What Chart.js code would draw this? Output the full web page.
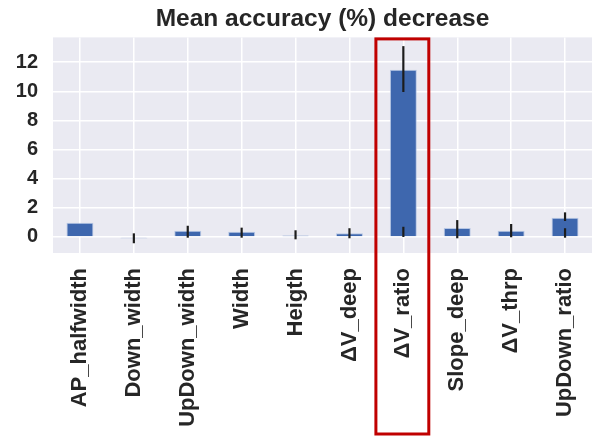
<!DOCTYPE html>
<html>
<head>
<meta charset="utf-8">
<script src="https://cdn.jsdelivr.net/npm/chart.js@4/dist/chart.umd.min.js"></script>
<style>
  html, body { margin: 0; padding: 0; background: #ffffff; }
  #wrap { width: 597px; height: 437px; }
</style>
</head>
<body>
<div id="wrap"><canvas id="c" width="597" height="437"></canvas></div>
<script>
// Feature names along the x axis
const features = ['AP_halfwidth', 'Down_width', 'UpDown_width', 'Width', 'Heigth',
                  'ΔV_deep', 'ΔV_ratio', 'Slope_deep', 'ΔV_thrp', 'UpDown_ratio'];

// Mean accuracy decrease (%) per feature
const meanDecrease = [0.98, -0.1, 0.43, 0.36, 0.1, 0.25, 11.48, 0.62, 0.43, 1.32];

// Error bar spans [low, high] per feature (some features show two spans)
const errorSpans = [
  [],
  [[-0.43, 0.25]],
  [[-0.05, 0.77]],
  [[-0.05, 0.64]],
  [[-0.16, 0.46]],
  [[-0.09, 0.60]],
  [[9.95, 13.1], [0.0, 0.7]],
  [[-0.09, 1.16]],
  [[-0.02, 0.89]],
  [[1.1, 1.69], [-0.05, 0.6]]
];

// Y axis tick values
const yTicks = [0, 2, 4, 6, 8, 10, 12];

// Feature outlined in red
const highlighted = 'ΔV_ratio';

const FONT = "'Liberation Sans', Arial, Helvetica, sans-serif";
const TEXT = '#262626';

const plotBackground = {
  id: 'plotBackground',
  // centre the title over the plotting area rather than the whole canvas
  afterLayout(chart) {
    const t = chart.titleBlock;
    if (t) {
      t.left = chart.chartArea.left;
      t.right = chart.chartArea.right;
    }
  },
  beforeDraw(chart) {
    const { ctx, chartArea: a } = chart;
    ctx.save();
    ctx.fillStyle = '#eaeaf2';
    ctx.fillRect(a.left, a.top, a.right - a.left, a.bottom - a.top);
    ctx.restore();
  }
};

const errorBars = {
  id: 'errorBars',
  afterDatasetsDraw(chart) {
    const { ctx } = chart;
    const x = chart.scales.x, y = chart.scales.y;
    ctx.save();
    ctx.strokeStyle = '#1c1c1c';
    ctx.lineWidth = 2.2;
    errorSpans.forEach((spans, i) => {
      const px = x.getPixelForValue(i);
      spans.forEach(([lo, hi]) => {
        ctx.beginPath();
        ctx.moveTo(px, y.getPixelForValue(lo));
        ctx.lineTo(px, y.getPixelForValue(hi));
        ctx.stroke();
      });
    });
    ctx.restore();
  }
};

const highlightBox = {
  id: 'highlightBox',
  afterDraw(chart) {
    const { ctx, chartArea: a } = chart;
    const x = chart.scales.x;
    const idx = features.indexOf(highlighted);
    const left = x.getPixelForValue(idx - 0.5) - 0.5;
    const right = x.getPixelForValue(idx + 0.5) - 1.5;
    ctx.save();
    ctx.strokeStyle = '#c00000';
    ctx.lineWidth = 3;
    ctx.strokeRect(left, a.top + 1.5, right - left, chart.height - 3 - (a.top + 1.5));
    ctx.restore();
  }
};

new Chart(document.getElementById('c'), {
  type: 'bar',
  data: {
    labels: features,
    datasets: [{
      data: meanDecrease,
      backgroundColor: '#3e67ae',
      borderColor: 'rgba(170,190,225,0.8)',
      borderWidth: 1,
      barPercentage: 0.5,
      categoryPercentage: 1.0
    }]
  },
  options: {
    responsive: false,
    animation: false,
    layout: { padding: { left: 0, right: 5, top: 0, bottom: 0 } },
    plugins: {
      legend: { display: false },
      tooltip: { enabled: false },
      title: {
        display: true,
        text: 'Mean accuracy (%) decrease',
        color: TEXT,
        font: { family: FONT, size: 24.5, weight: 'bold' },
        padding: { top: 5, bottom: 3 }
      }
    },
    scales: {
      x: {
        grid: { color: '#ffffff', lineWidth: 1.5, offset: false, drawTicks: false },
        border: { display: false },
        ticks: {
          color: TEXT,
          font: { family: FONT, size: 22, weight: 'bold' },
          minRotation: 90,
          maxRotation: 90,
          autoSkip: false,
          padding: 15
        },
        afterFit(axis) {
          axis.height = 184;
          axis.paddingLeft = 0;
          axis.paddingRight = 0;
        }
      },
      y: {
        min: -1.1,
        max: 13.7,
        grid: { color: '#ffffff', lineWidth: 1.5, drawTicks: false },
        border: { display: false },
        ticks: {
          color: TEXT,
          font: { family: FONT, size: 20, weight: 'bold' },
          padding: 15
        },
        afterBuildTicks(axis) { axis.ticks = yTicks.map(v => ({ value: v })); },
        afterFit(axis) {
          axis.width = 53;
          axis.paddingTop = 0;
          axis.paddingBottom = 0;
        }
      }
    }
  },
  plugins: [plotBackground, errorBars, highlightBox]
});
</script>
</body>
</html>
